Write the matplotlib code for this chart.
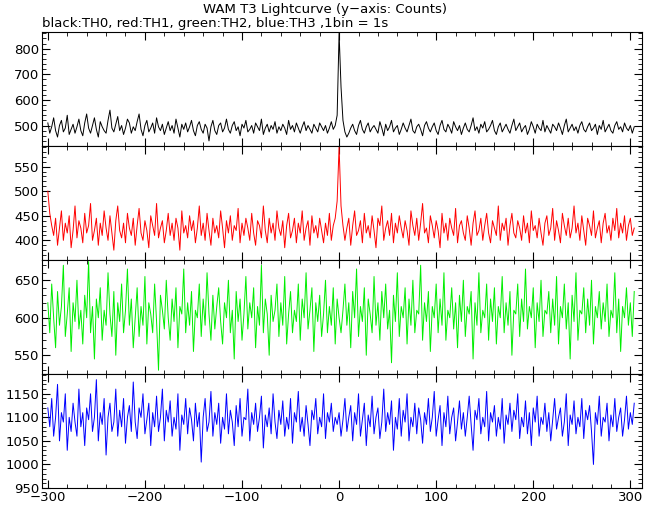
import numpy as np
import matplotlib
matplotlib.use("Agg")
import matplotlib.pyplot as plt
from matplotlib.ticker import MultipleLocator

th0 = [510,470,495,530,480,455,500,520,475,490,540,465,485,505,470,
495,525,480,460,510,545,490,470,500,530,485,455,515,495,480,
470,520,560,490,475,505,535,480,500,465,490,525,510,470,495,
480,515,545,485,460,500,520,475,490,510,470,530,495,480,505,
465,490,515,480,500,470,525,490,455,505,485,510,475,495,520,
480,460,500,515,485,470,505,490,440,495,520,480,465,500,510,
475,490,525,485,470,500,515,480,495,460,505,490,520,475,485,
500,470,510,495,480,525,465,490,505,475,500,485,515,470,495,
480,505,490,465,520,485,500,475,510,490,470,495,515,480,500,
485,470,505,490,475,510,495,480,500,470,490,515,485,500,540,
860,650,520,
475,455,470,490,505,480,465,500,520,485,470,495,510,475,490,
500,485,470,515,490,460,505,480,495,520,475,490,500,465,485,
510,490,475,500,525,480,470,495,505,485,460,500,515,490,475,
495,510,480,465,500,520,485,475,505,490,470,515,495,480,500,
465,490,510,485,475,500,530,480,495,470,505,490,515,475,485,
500,520,480,465,495,510,475,490,505,485,470,500,525,480,495,
510,475,490,500,465,485,515,495,470,505,490,480,520,475,500,
485,470,505,495,480,510,490,465,500,525,475,490,505,480,495,
470,500,515,485,475,495,510,480,490,505,465,500,485,520,475,
490,505,480,470,500,515,485,495,475,510,490,480,500,470,495]

th1 = [500,455,430,410,445,390,425,460,400,435,415,450,385,420,470,
405,440,425,395,455,415,430,475,400,420,445,390,435,410,460,
425,400,450,415,380,440,470,420,405,435,395,455,425,410,445,
390,430,465,415,400,440,420,385,450,430,410,475,405,425,440,
395,420,455,410,435,400,445,425,380,460,415,430,405,450,420,
440,395,425,470,410,435,400,455,420,390,445,415,430,405,460,
425,385,440,415,450,400,430,420,465,395,435,410,445,425,400,
455,415,390,440,430,405,470,420,395,445,415,435,400,460,425,
410,440,385,430,455,405,420,445,395,435,415,460,400,425,440,
390,450,415,430,405,445,420,395,435,410,455,400,430,445,480,
590,470,430,
400,425,445,390,430,460,410,420,440,395,455,415,430,405,450,
420,385,445,430,470,400,425,440,410,455,395,435,415,450,425,
405,440,420,390,460,430,410,445,400,435,475,415,425,395,450,
430,405,440,420,385,455,415,435,400,445,425,410,465,395,430,
440,415,400,450,425,390,435,460,410,420,445,400,430,455,415,
395,440,425,410,470,400,435,420,445,390,430,455,415,405,440,
425,400,450,415,435,395,460,420,430,405,445,415,390,435,450,
410,425,465,400,440,420,395,455,430,410,445,405,425,470,415,
435,400,450,420,390,445,430,410,460,405,425,440,395,435,455,
415,430,400,445,420,465,405,435,415,450,400,430,445,410,425]

th2 = [620,580,645,600,560,635,590,615,670,575,605,640,555,620,595,
650,585,610,565,630,600,675,580,615,545,625,600,640,570,610,
590,660,605,575,635,550,620,595,645,580,610,665,590,625,560,
600,640,575,615,590,655,565,620,605,580,645,595,530,630,610,
585,650,600,570,625,595,640,560,615,605,665,580,620,590,635,
555,610,600,645,575,625,590,660,605,570,630,585,615,640,595,
565,620,600,650,580,610,545,635,595,625,570,605,655,585,620,
600,640,560,615,590,670,580,625,605,550,630,595,610,645,575,
620,590,655,565,605,635,580,610,595,645,570,625,600,660,585,
610,640,555,620,595,630,575,605,650,580,615,590,640,565,625,
600,580,610,
645,590,620,560,635,600,665,575,615,595,640,550,625,605,580,
655,590,620,570,635,600,645,585,610,540,630,595,660,575,615,
600,640,565,625,590,650,580,610,605,670,570,620,595,635,555,
615,600,645,580,625,590,660,570,610,600,640,585,620,560,630,
595,650,575,615,605,635,545,620,590,660,580,610,600,645,570,
625,595,640,565,615,600,655,580,620,590,635,550,610,605,645,
575,625,595,665,585,615,600,640,560,620,595,650,575,610,605,
635,580,625,590,655,565,615,600,645,585,620,545,630,595,660,
570,610,605,640,580,625,590,650,565,615,600,635,585,620,595,
645,575,610,600,660,580,625,555,615,600,640,590,620,575,635]

th3 = [1120,1080,1140,1060,1100,1170,1050,1110,1090,1150,1030,1100,1070,1130,1090,
1060,1160,1080,1110,1040,1120,1095,1150,1070,1100,1180,1050,1110,1085,1140,
1020,1100,1130,1070,1090,1160,1060,1115,1080,1140,1045,1100,1125,1070,1175,
1090,1055,1120,1100,1150,1065,1095,1130,1040,1110,1080,1145,1070,1100,1160,
1050,1115,1090,1135,1060,1100,1075,1150,1030,1105,1085,1140,1065,1120,1095,
1050,1130,1080,1110,1005,1100,1140,1070,1090,1155,1060,1110,1085,1130,1045,
1100,1075,1150,1065,1115,1090,1040,1125,1080,1140,1060,1100,1095,1160,1050,
1110,1085,1130,1070,1100,1145,1035,1105,1080,1120,1065,1150,1090,1055,1115,
1085,1135,1060,1100,1075,1140,1045,1110,1090,1155,1070,1100,1060,1125,1085,
1040,1115,1095,1140,1065,1100,1080,1150,1055,1110,1090,1130,1070,1100,1085,
1110,1060,1095,
1140,1070,1100,1125,1050,1110,1085,1150,1060,1095,1130,1040,1105,1080,1145,
1065,1100,1120,1055,1090,1160,1070,1110,1085,1135,1030,1100,1075,1140,1060,
1115,1090,1150,1050,1100,1080,1130,1065,1120,1095,1045,1110,1085,1140,1070,
1100,1155,1060,1095,1125,1040,1110,1080,1145,1065,1100,1120,1050,1090,1135,
1075,1110,1060,1100,1145,1085,1030,1115,1095,1140,1065,1100,1080,1155,1050,
1110,1090,1125,1060,1100,1075,1140,1045,1105,1085,1130,1070,1115,1095,1150,
1055,1100,1080,1135,1065,1110,1040,1120,1090,1145,1060,1100,1085,1130,1070,
1110,1050,1095,1140,1075,1100,1120,1060,1090,1150,1040,1105,1085,1135,1065,
1100,1080,1140,1055,1115,1095,1125,1070,1000,1110,1085,1145,1060,1100,1090,
1130,1050,1105,1080,1140,1070,1100,1120,1060,1095,1145,1075,1110,1085,1130]

series = [th0, th1, th2, th3]
colors = ["black", "red", "#00ee00", "blue"]
ylims = [(420, 865), (360, 592), (525, 677), (950, 1192)]
majors = [100, 50, 50, 50]
minors = [20, 10, 10, 10]
xticks = [-300, -200, -100, 0, 100, 200, 300]

fig = plt.figure(figsize=(6.5, 5.05), dpi=100)
left, width = 42/650, 600/650
top, bottom = 1-32/505, 1-488/505
h = (top-bottom)/4
for i, (vals, c) in enumerate(zip(series, colors)):
    ax = fig.add_axes([left, top-(i+1)*h, width, h])
    t = -300 + 2*np.arange(len(vals))
    ax.plot(t, vals, color=c, lw=0.7)
    ax.set_xlim(-306, 312)
    ax.set_ylim(*ylims[i])
    ax.yaxis.set_major_locator(MultipleLocator(majors[i]))
    ax.yaxis.set_minor_locator(MultipleLocator(minors[i]))
    ax.set_xticks(xticks)
    ax.xaxis.set_minor_locator(MultipleLocator(20))
    ax.tick_params(which="both", direction="in", top=True, right=True, labelsize=9.5, pad=2)
    ax.tick_params(which="major", length=6)
    ax.tick_params(which="minor", length=3)
    yt = [v for v in ax.get_yticks() if ylims[i][0] <= v <= ylims[i][1]]
    ax.set_yticks(yt)
    ax.set_yticklabels([str(int(v)) for v in yt])
    if i < 3:
        ax.set_xticklabels([])
    else:
        ax.set_xticklabels(["\u2212300", "\u2212200", "\u2212100", "0", "100", "200", "300"])

fig.text(0.5, 1-9/505, "WAM T3 Lightcurve (y\u2212axis: Counts)", ha="center", va="center", fontsize=9.5)
fig.text(42/650, 1-24/505, "black:TH0, red:TH1, green:TH2, blue:TH3 ,1bin = 1s", ha="left", va="center", fontsize=9.5)
fig.savefig("out.png", dpi=100)
